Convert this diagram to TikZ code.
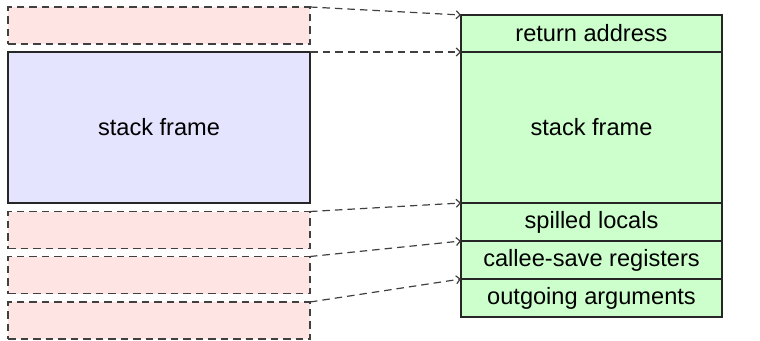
\documentclass[tikz,border=0pt]{standalone}
\usepackage{fontspec}
\setmainfont{Liberation Sans}
\usetikzlibrary{arrows.meta}
\definecolor{slotfill}{HTML}{FFE4E4}
\definecolor{framefill}{HTML}{E4E4FF}
\definecolor{calleefill}{HTML}{CCFFCC}
\definecolor{linkgray}{HTML}{404040}
\begin{document}
\begin{tikzpicture}[x=1pt,y=-1pt,
  cell/.style={rectangle,inner sep=0pt,outer sep=0pt,line width=1.2pt,
    font=\fontsize{23.6}{28}\selectfont},
  slot/.style={cell,draw=linkgray,fill=slotfill,dash pattern=on 7.5pt off 5pt,
    minimum width=302pt,minimum height=37pt},
  callerframe/.style={cell,draw=black!85,fill=framefill,
    minimum width=302pt,minimum height=151pt},
  part/.style={cell,draw=black!85,fill=calleefill,minimum width=261pt},
  link/.style={draw=linkgray,line width=1.2pt,dash pattern=on 7.5pt off 5pt,
    -{Straight Barb[length=4pt,width=8pt]}}]
  \useasboundingbox (0,0) rectangle (760,340);
  % caller side
  \node[slot] (l1) at (159,25.5) {};
  \node[callerframe] (l2) at (159,127.5) {stack frame};
  \node[slot] (l3) at (159,230) {};
  \node[slot] (l4) at (159,275) {};
  \node[slot] (l5) at (159,320.5) {};
  % callee side
  \node[part,minimum height=37pt] (r1) at (591.5,33.5) {return address};
  \node[part,minimum height=151pt] (r2) at (591.5,127.5) {stack frame};
  \node[part,minimum height=38pt] (r3) at (591.5,222) {spilled locals};
  \node[part,minimum height=38pt] (r4) at (591.5,260) {callee-save registers};
  \node[part,minimum height=38pt] (r5) at (591.5,298) {outgoing arguments};
  % mapping
  \draw[link] (l1.north east) -- (r1.north west);
  \draw[link] (l2.north east) -- (r2.north west);
  \draw[link] (l3.north east) -- (r3.north west);
  \draw[link] (l4.north east) -- (r4.north west);
  \draw[link] (l5.north east) -- (r5.north west);
\end{tikzpicture}
\end{document}
